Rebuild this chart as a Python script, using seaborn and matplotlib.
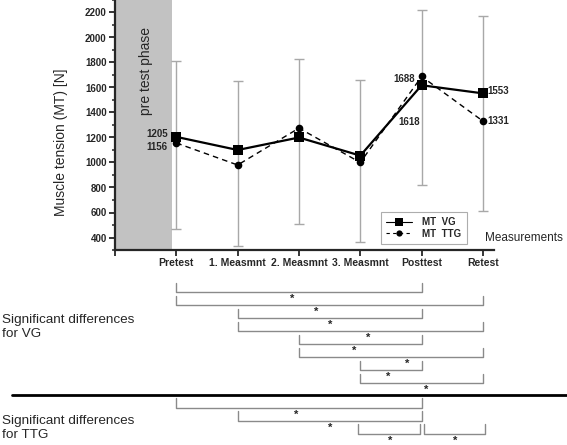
import numpy as np
import pandas as pd
import matplotlib
matplotlib.use("Agg")
import matplotlib.pyplot as plt
import seaborn as sns
from matplotlib.lines import Line2D
from matplotlib.ticker import MultipleLocator, FixedLocator

# ---------------- data ----------------
categories = ["Pretest", "1. Measmnt", "2. Measmnt", "3. Measmnt", "Posttest", "Retest"]
mt_vg = [1205, 1100, 1200, 1055, 1618, 1553]
mt_ttg = [1156, 980, 1275, 1000, 1688, 1331]
err_low = [472, 333, 509, 368, 821, 616]
err_high = [1810, 1654, 1826, 1662, 2216, 2168]
y_ticks = [400, 600, 800, 1000, 1200, 1400, 1600, 1800, 2000, 2200]
vg_pairs = [(0, 4), (0, 5), (1, 4), (1, 5), (2, 4), (2, 5), (3, 4), (3, 5)]
ttg_pairs = [(0, 4), (1, 4), (3, 4), (4, 5)]

# layout of the bracket annotations (not data)
vg_star_dx = [-0.11, -0.22, 0.01, 0.13, -0.10, 0.26, -0.04, 0.08]
ttg_rows = [0, 1, 2, 2]
ttg_shift = [0, 0, -0.03, 0.035]
ttg_star_dx = [-0.05, 0.01, 0.02, 0.02]

# ---------------- style ----------------
sns.set_style("ticks")
plt.rcParams["font.family"] = ["Liberation Sans", "DejaVu Sans"]

W, H = 567, 445
fig = plt.figure(figsize=(W / 100, H / 100), dpi=100)
ax = fig.add_axes([115 / W, 1 - 250 / H, (494 - 115) / W, 250 / H])

x = np.arange(len(categories))
df = pd.DataFrame({"x": np.concatenate([x, x]),
                   "MT": mt_vg + mt_ttg,
                   "group": ["MT  VG"] * len(x) + ["MT  TTG"] * len(x)})

# pre-test phase band
ax.axvspan(-1, -0.07, color="#c2c2c2", lw=0, zorder=0)
ax.text(-0.5, 1730, "pre test phase", rotation=90, ha="center", va="center", fontsize=10)

# error bars
vg = np.array(mt_vg)
ax.errorbar(x, vg, yerr=[vg - np.array(err_low), np.array(err_high) - vg],
            fmt="none", ecolor="#a8a8a8", elinewidth=1, capsize=3.5, capthick=1, zorder=1)

sns.lineplot(data=df[df.group == "MT  TTG"], x="x", y="MT", ax=ax, color="black",
             linestyle=(0, (4, 3)), linewidth=1, marker="o", markersize=5.5,
             markeredgewidth=0, zorder=3, legend=False)
sns.lineplot(data=df[df.group == "MT  VG"], x="x", y="MT", ax=ax, color="black",
             linewidth=1.6, marker="s", markersize=7.5, markeredgewidth=0,
             zorder=4, legend=False)

# value labels
lab_kw = dict(fontsize=7, fontweight="bold", textcoords="offset points")
ax.annotate(str(mt_vg[0]), (0, mt_vg[0]), xytext=(-6, 2), ha="right", va="center", **lab_kw)
ax.annotate(str(mt_ttg[0]), (0, mt_ttg[0]), xytext=(-6, -3), ha="right", va="center", **lab_kw)
ax.annotate(str(mt_ttg[4]), (4, mt_ttg[4]), xytext=(-5, -1.5), ha="right", va="center", **lab_kw)
ax.annotate(str(mt_vg[4]), (4, mt_vg[4]), xytext=(-1.5, -26.5), ha="right", va="center", **lab_kw)
ax.annotate(str(mt_vg[5]), (5, mt_vg[5]), xytext=(3, 2), ha="left", va="center", **lab_kw)
ax.annotate(str(mt_ttg[5]), (5, mt_ttg[5]), xytext=(3, 0), ha="left", va="center", **lab_kw)

# axes styling
ax.set_xlim(-1, 5.18)
ax.set_ylim(300, 2300)
ax.set_xticks(x)
ax.set_xticklabels(categories, fontsize=7.5, fontweight="bold")
ax.xaxis.set_minor_locator(FixedLocator([-1]))
ax.set_yticks(y_ticks)
ax.set_yticklabels([str(v) for v in y_ticks], fontsize=7, fontweight="bold")
ax.yaxis.set_minor_locator(MultipleLocator(100))
ax.tick_params(axis="both", which="major", length=4, width=1.3, direction="out", pad=2)
ax.tick_params(axis="y", which="minor", length=2.5, width=1.1, direction="out")
ax.tick_params(axis="x", which="minor", length=4, width=1.3, direction="out")
for s in ["top", "right"]:
    ax.spines[s].set_visible(False)
for s in ["left", "bottom"]:
    ax.spines[s].set_linewidth(1.6)
ax.set_xlabel("")
ax.set_ylabel("Muscle tension (MT) [N]", fontsize=10)
ax.yaxis.set_label_coords(-0.125, 0.43)
fig.text(485 / W, 1 - 238 / H, "Measurements", fontsize=8.5, ha="left", va="center")

# legend
handles = [Line2D([], [], color="black", lw=0.8, marker="s", markersize=6, markeredgewidth=0),
           Line2D([], [], color="black", lw=0.8, linestyle=(0, (3, 3)), marker="o",
                  markersize=4.5, markeredgewidth=0)]
leg = ax.legend(handles, ["MT  VG", "MT  TTG"], loc="upper left",
                bbox_to_anchor=(381 / W, 1 - 212 / H), bbox_transform=fig.transFigure,
                borderaxespad=0, prop={"size": 7, "weight": "bold"}, frameon=True,
                fancybox=False, handlelength=2.6, labelspacing=0.15, borderpad=0.55,
                handletextpad=1.1)
leg.get_frame().set_edgecolor("#999999")
leg.get_frame().set_linewidth(0.8)

# ---------------- significance brackets ----------------
bx = fig.add_axes([115 / W, 0, (494 - 115) / W, 195 / H])
bx.set_xlim(-1, 5.18)
bx.set_ylim(445, 250)
bx.axis("off")

br_col = "#8a8a8a"
for i, ((a, b), dx) in enumerate(zip(vg_pairs, vg_star_dx)):
    y = 292 + 13.04 * i
    bx.plot([a, a, b, b], [y - 9.5, y, y, y - 9.5], color=br_col, lw=1, clip_on=False)
    bx.text((a + b) / 2 + dx, y + 6.5, "*", ha="center", va="center", fontsize=8,
            fontweight="bold", clip_on=False)

for (a, b), r, sh, dx in zip(ttg_pairs, ttg_rows, ttg_shift, ttg_star_dx):
    y = 407.7 + 13.2 * r
    bx.plot([a + sh, a + sh, b + sh, b + sh], [y - 10, y, y, y - 10], color=br_col,
            lw=1, clip_on=False)
    bx.text((a + b) / 2 + sh + dx, y + 7, "*", ha="center", va="center", fontsize=8,
            fontweight="bold", clip_on=False)

fig.add_artist(Line2D([12 / W, 1.0], [1 - 394.5 / H] * 2, transform=fig.transFigure,
                      color="black", lw=2))

fig.text(2 / W, 1 - 327 / H, "Significant differences\nfor VG", fontsize=9.7,
         ha="left", va="center", linespacing=1.15)
fig.text(2 / W, 1 - 428 / H, "Significant differences\nfor TTG", fontsize=9.7,
         ha="left", va="center", linespacing=1.15)

fig.savefig("out.png", dpi=100)
